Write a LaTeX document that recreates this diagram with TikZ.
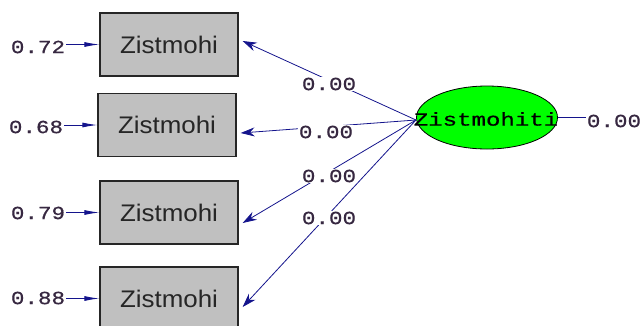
\documentclass[tikz,border=0pt]{standalone}
\usepackage{fontspec}
\usepackage{graphicx}
\setmainfont{Liberation Sans}
\newfontfamily\monof[FakeBold=0.6]{Liberation Mono}
\usetikzlibrary{arrows.meta,shapes.geometric,calc}
\definecolor{pathblue}{RGB}{20,20,140}
\definecolor{boxgray}{RGB}{192,192,192}
\definecolor{numcol}{RGB}{55,40,65}
\definecolor{ellgreen}{RGB}{0,255,0}
\newcommand{\mnum}[1]{\scalebox{1.22}[1]{#1}}
\begin{document}
\begin{tikzpicture}[x=1pt,y=-1pt,
 obs/.style={draw=black!85, line width=1.3pt, fill=boxgray, minimum width=138pt, minimum height=63pt, inner sep=0pt, font=\fontsize{24}{24}\selectfont, text=black!85},
 lat/.style={ellipse, draw=black, line width=0.8pt, fill=ellgreen, minimum width=141pt, minimum height=63pt, inner sep=0pt},
 val/.style={font=\monof\fontsize{18.5}{18.5}\selectfont, text=numcol, inner sep=1pt},
 lbl/.style={val, fill=white},
 loadarrow/.style={draw=pathblue, line width=0.8pt, -{Stealth[length=14pt,width=9pt]}},
 errarrow/.style={draw=pathblue, line width=0.9pt, -{Latex[length=15pt,width=5pt]}}]
\useasboundingbox (0,0) rectangle (641,325);
\clip (0,0) rectangle (641,325);
\node[obs] (b1) at (169,44.5) {\scalebox{1.08}[1]{Zistmohi}};
\node[obs] (b2) at (167,125) {\scalebox{1.08}[1]{Zistmohi}};
\node[obs] (b3) at (169,212.5) {\scalebox{1.08}[1]{Zistmohi}};
\node[obs] (b4) at (169,298.5) {\scalebox{1.08}[1]{Zistmohi}};
\node[lat] (lat) at (487,117.5) {};
\node[val, text=black] (lt) at (486,119) {\scalebox{1.3}[1]{Zistmohiti}};
\coordinate (src) at (416,120);
\node[val] (e1) at (38,47) {\mnum{0.72}};
\node[val] (e2) at (36,127) {\mnum{0.68}};
\node[val] (e3) at (38,213) {\mnum{0.79}};
\node[val] (e4) at (38,298) {\mnum{0.88}};
\draw[errarrow] (e1.east |- b1.west) -- (b1.west);
\draw[errarrow] (e2.east |- b2.west) -- (b2.west);
\draw[errarrow] (e3.east |- b3.west) -- (b3.west);
\draw[errarrow] (e4.east |- b4.west) -- (b4.west);
\node[val] (r) at (614,121) {\mnum{0.00}};
\draw[pathblue, line width=0.8pt] (lat.east) -- (r.west |- lat.east);
\draw[loadarrow] (src) -- ($(b1.east)+(4,-3.5)$);
\draw[loadarrow] (src) -- ($(b2.east)+(4,8)$);
\draw[loadarrow] (src) -- ($(b3.east)+(4,10.5)$);
\draw[loadarrow] (src) -- ($(b4.east)+(4,8.5)$);
\node[lbl] (l1) at (329,84) {\mnum{0.00}};
\node[lbl] (l2) at (326,132) {\mnum{0.00}};
\node[lbl] (l3) at (329,176) {\mnum{0.00}};
\node[lbl] (l4) at (329,218) {\mnum{0.00}};
\end{tikzpicture}
\end{document}
